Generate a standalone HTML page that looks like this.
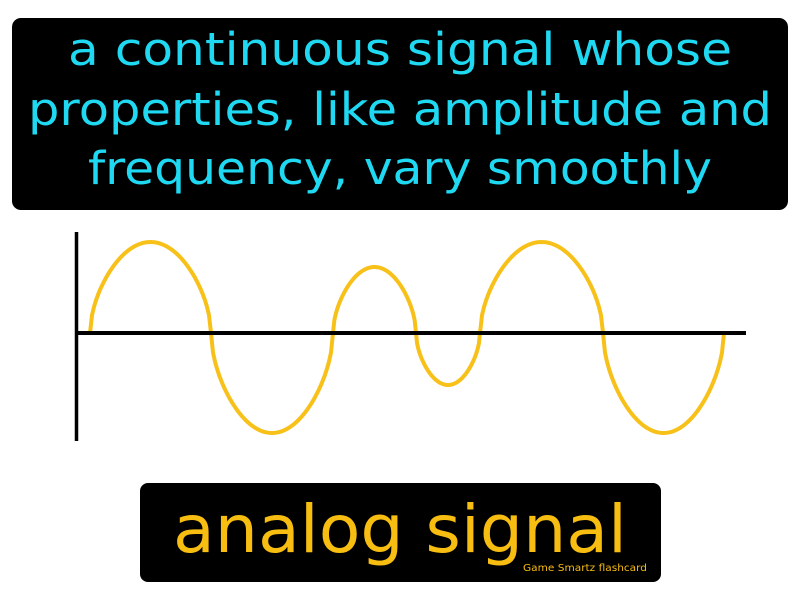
<!DOCTYPE html>
<html><head><meta charset="utf-8"><style>html,body{margin:0;padding:0;background:#fff}svg{display:block}</style></head>
<body>
<svg width="800" height="600" viewBox="0 0 800 600" font-family="'DejaVu Sans', 'Liberation Sans', sans-serif">
  <rect x="12" y="18" width="776" height="192" rx="9" fill="#000"/>
  <g fill="#1fd9f2" font-size="45" text-anchor="middle">
    <text x="400" y="65" textLength="664" lengthAdjust="spacingAndGlyphs">a continuous signal whose</text>
    <text x="400" y="125" textLength="744" lengthAdjust="spacingAndGlyphs">properties, like amplitude and</text>
    <text x="400" y="184" textLength="624" lengthAdjust="spacingAndGlyphs">frequency, vary smoothly</text>
  </g>
  <line x1="76.5" y1="232" x2="76.5" y2="441" stroke="#000" stroke-width="3.5"/>
  <g id="wave-layer"></g>
  <line x1="76" y1="333" x2="746" y2="333" stroke="#000" stroke-width="4"/>
  <rect x="140" y="483" width="521" height="99" rx="8" fill="#000"/>
  <text x="400" y="552" fill="#f7bd10" font-size="66" text-anchor="middle" textLength="454" lengthAdjust="spacingAndGlyphs">analog signal</text>
  <text x="585" y="571" fill="#f7bd10" font-size="10" text-anchor="middle" textLength="124" lengthAdjust="spacingAndGlyphs">Game Smartz  flashcard</text>
</svg>
<script>
// zero crossings (x, px in the reference) and half-cycle amplitudes (signal units)
const crossings = [90, 211, 333, 416, 480, 603, 724];
const amplitudes = [91, -100, 66, -52, 91, -100];
const baseline = 333;
function yScale(v){ return baseline - v; }
const layer = document.getElementById('wave-layer');
let d = '';
for (let i = 0; i < amplitudes.length; i++) {
  const x0 = crossings[i], x1 = crossings[i+1], a = amplitudes[i];
  for (let k = 0; k <= 60; k++) {
    const t = k / 60;
    const x = x0 + (x1 - x0) * t;
    const y = yScale(a * Math.pow(Math.sin(Math.PI * t), 0.55));
    d += (d === '' ? 'M' : 'L') + x.toFixed(2) + ' ' + y.toFixed(2) + ' ';
  }
}
const p = document.createElementNS('http://www.w3.org/2000/svg', 'path');
p.setAttribute('d', d);
p.setAttribute('fill', 'none');
p.setAttribute('stroke', '#f7c11a');
p.setAttribute('stroke-width', '4');


layer.appendChild(p);
</script>
</body></html>
